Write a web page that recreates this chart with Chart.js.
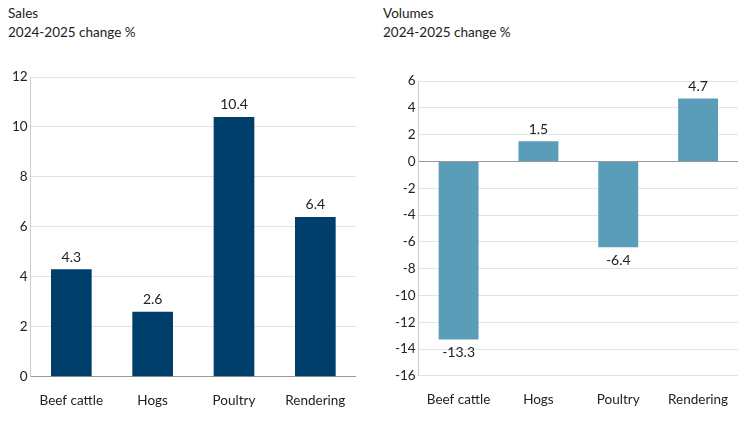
<!DOCTYPE html>
<html><head><meta charset="utf-8">
<script src="https://cdn.jsdelivr.net/npm/chart.js@4/dist/chart.umd.min.js"></script>
<style>
body{margin:0;background:#fff;font-family:Lato,"Open Sans",sans-serif;}
.box{position:absolute;top:0;height:422px;}
.t{position:absolute;top:4px;font-size:13.5px;color:#222;line-height:19px;}
</style></head><body>
<div class="t" style="left:8px">Sales<br>2024-2025 change %</div>
<div class="t" style="left:383px">Volumes<br>2024-2025 change %</div>
<div class="box" style="left:0;width:362px"><canvas id="c1"></canvas></div>
<div class="box" style="left:378px;width:370px"><canvas id="c2"></canvas></div>
<script>
const categories=["Beef cattle","Hogs","Poultry","Rendering"];
const sales=[4.3,2.6,10.4,6.4];
const volumes=[-13.3,1.5,-6.4,4.7];
const labelPlugin={id:'lbl',afterDatasetsDraw(ch){
  const ctx=ch.ctx;const meta=ch.getDatasetMeta(0);
  ctx.save();ctx.font='14px Lato';ctx.fillStyle='#222';ctx.textAlign='center';
  meta.data.forEach((b,i)=>{const v=ch.data.datasets[0].data[i];
    if(v>=0){ctx.textBaseline='bottom';ctx.fillText(v.toFixed(1),b.x,b.y-5);}
    else{ctx.textBaseline='top';ctx.fillText(v.toFixed(1),b.x,b.y+6);}});
  ctx.restore();}};
function mk(id,data,color,min,max,pad){
  new Chart(document.getElementById(id),{type:'bar',
    data:{labels:categories,datasets:[{data,backgroundColor:color,barPercentage:0.5,categoryPercentage:1}]},
    options:{responsive:true,maintainAspectRatio:false,animation:false,
      layout:{padding:pad},
      plugins:{legend:{display:false},tooltip:{enabled:false}},
      scales:{
        x:{grid:{display:false},border:{display:false},ticks:{color:'#222',font:{size:13.5,family:'Lato'},padding:8}},
        y:{min,max,ticks:{stepSize:2,color:'#222',font:{size:13.5,family:'Lato'}},
           grid:{color:ctx=>ctx.tick.value===0?'#999':'#e3e3e3',drawTicks:false},border:{display:true,color:'#ccc'}}}}
    ,plugins:[labelPlugin]});
}
mk('c1',sales,'#003f6b',0,12,{top:77,right:6,bottom:5,left:9});
mk('c2',volumes,'#5a9db8',-16,6,{top:81,right:10,bottom:6,left:14});
</script></body></html>
